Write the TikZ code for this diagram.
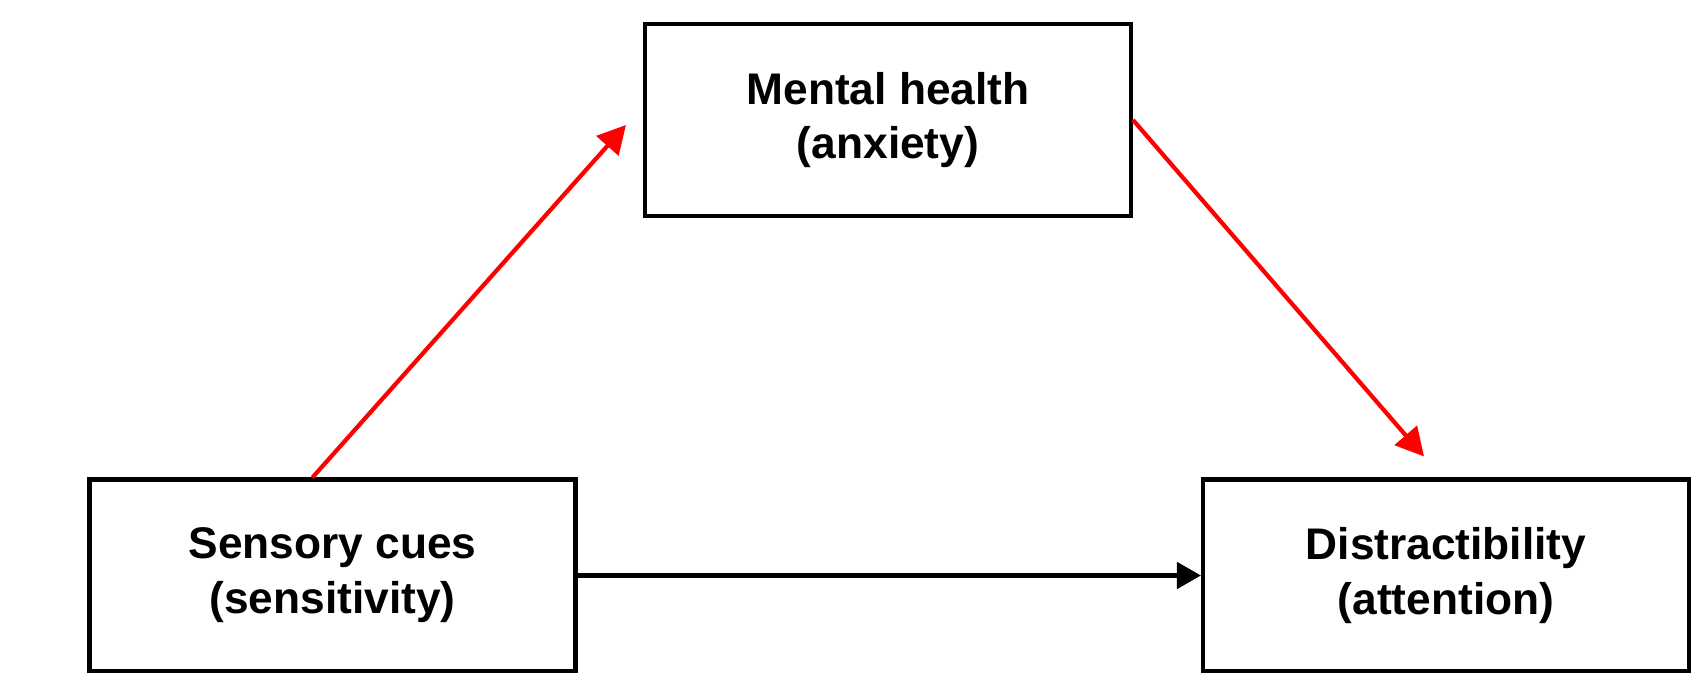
\documentclass[tikz,border=0pt]{standalone}
\usepackage{fontspec}
\setmainfont{Liberation Sans}
\usetikzlibrary{arrows.meta}

\begin{document}
\begin{tikzpicture}[font=\fontsize{12.6}{15.6}\selectfont\bfseries, xscale=1, yscale=1]
%% the picture is 17cm x 6.73cm, one cm is 100 px of the drawing
%% box sizes and arrow ends are read off the drawing
\tikzstyle{varbox}=[draw=black,line width=1.15pt,minimum width=4.86cm,minimum height=1.92cm,align=center,fill=white]
\tikzstyle{arc}=[-{Triangle[length=0.24cm,width=0.26cm]},line width=1.3pt,black]
\tikzstyle{redArc}=[-{Triangle[length=0.28cm,width=0.29cm]},line width=1.2pt,red]
\useasboundingbox (0,0) rectangle (17,6.73);
%% variable boxes %%
\node[varbox] at (8.88,5.53) (Mental) {Mental health\\(anxiety)};
\node[varbox] at (3.325,0.975) (Sensory) {Sensory cues\\(sensitivity)};
\node[varbox] at (14.46,0.975) (Distract) {Distractibility\\(attention)};
%% free ends of the indirect path
\coordinate (SensoryTop) at ([xshift=-0.2cm]Sensory.north);
\coordinate (MentalTip) at ([xshift=-0.17cm,yshift=-0.05cm]Mental.west);
\coordinate (DistractTip) at ([xshift=-0.22cm,yshift=0.21cm]Distract.north);
%% arcs %%
\draw[redArc] (SensoryTop) -- (MentalTip);
\draw[redArc] (Mental.east) -- (DistractTip);
\draw[arc] (Sensory.east) -- (Distract.west);
\end{tikzpicture}
\end{document}
